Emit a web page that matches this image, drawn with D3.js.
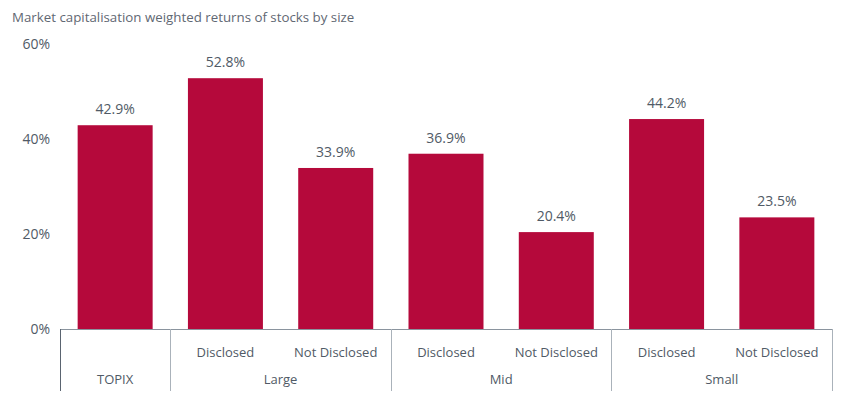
<!DOCTYPE html>
<html><head><meta charset="utf-8">
<script src="https://cdn.jsdelivr.net/npm/d3@7"></script>
<style>body{margin:0;background:#fff}svg text{font-family:"Open Sans","Noto Sans",sans-serif;fill:#505a66}</style>
</head><body><svg id="c" width="855" height="401"></svg>
<script>
const categories = ["TOPIX","Large Disclosed","Large Not Disclosed","Mid Disclosed","Mid Not Disclosed","Small Disclosed","Small Not Disclosed"];
const subLabels = ["","Disclosed","Not Disclosed","Disclosed","Not Disclosed","Disclosed","Not Disclosed"];
const groups = [{name:"TOPIX",start:0,end:1},{name:"Large",start:1,end:3},{name:"Mid",start:3,end:5},{name:"Small",start:5,end:7}];
const values = [42.9,52.8,33.9,36.9,20.4,44.2,23.5];
const yTicks = [0,20,40,60];
const title = "Market capitalisation weighted returns of stocks by size";

const svg = d3.select("#c");
const L=60, R=832, T=44, B=329;
const x = d3.scaleBand().domain(categories).range([L,R]).paddingInner(0.32).paddingOuter(0.16);
const y = d3.scaleLinear().domain([0,60]).range([B,T]);
const step=(R-L)/categories.length;

svg.append("text").attr("x",12).attr("y",22).style("font-size","13.3px").style("fill","#5f6873").text(title);

svg.selectAll(".yt").data(yTicks).enter().append("text")
  .attr("x",50).attr("y",d=>y(d)+5).attr("text-anchor","end").style("font-size","14px").text(d=>d+"%");

svg.selectAll(".bar").data(values).enter().append("rect")
  .attr("x",(d,i)=>x(categories[i])).attr("width",x.bandwidth())
  .attr("y",d=>y(d)).attr("height",d=>B-y(d)).attr("fill","#b5093b");

svg.selectAll(".lbl").data(values).enter().append("text")
  .attr("x",(d,i)=>x(categories[i])+x.bandwidth()/2).attr("y",d=>y(d)-11)
  .attr("text-anchor","middle").style("font-size","14px").text(d=>d.toFixed(1)+"%");

svg.append("line").attr("x1",L).attr("x2",R).attr("y1",B+0.5).attr("y2",B+0.5).attr("stroke","#8a949e");
const seps = [0,1,3,5,7].map(i=>L+i*step);
svg.selectAll(".sep").data(seps).enter().append("line")
  .attr("x1",d=>Math.round(d)+0.5).attr("x2",d=>Math.round(d)+0.5).attr("y1",B).attr("y2",391)
  .attr("stroke",(d,i)=>i==0?"#5a6470":"#aab2ba");

svg.selectAll(".sub").data(subLabels).enter().append("text")
  .attr("x",(d,i)=>x(categories[i])+x.bandwidth()/2).attr("y",357)
  .attr("text-anchor","middle").style("font-size","13px").text(d=>d);
svg.selectAll(".grp").data(groups).enter().append("text")
  .attr("x",d=>L+(d.start+d.end)/2*step).attr("y",384)
  .attr("text-anchor","middle").style("font-size","13px").text(d=>d.name);
</script></body></html>
